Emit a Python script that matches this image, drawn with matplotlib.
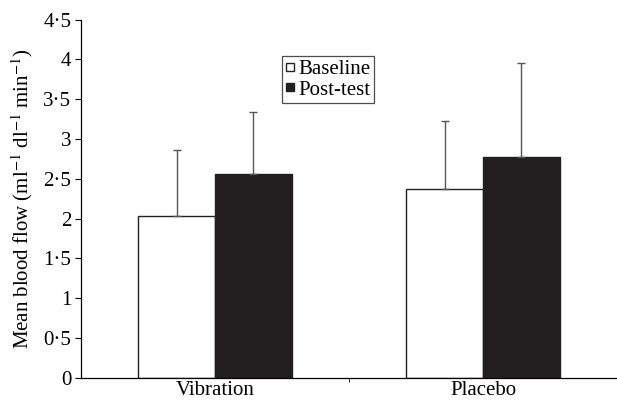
import matplotlib
matplotlib.use("Agg")
import matplotlib.pyplot as plt
import numpy as np
from matplotlib.ticker import FuncFormatter
from matplotlib.lines import Line2D

plt.rcParams['font.family'] = ['Liberation Serif', 'DejaVu Serif']
plt.rcParams['mathtext.fontset'] = 'stix'

categories = ["Vibration", "Placebo"]
series_names = ["Baseline", "Post-test"]
baseline = [2.03, 2.37]
posttest = [2.56, 2.78]
baseline_err = [0.83, 0.86]
posttest_err = [0.78, 1.17]
yticks = [0, 0.5, 1, 1.5, 2, 2.5, 3, 3.5, 4, 4.5]

fig = plt.figure(figsize=(6.17, 4.01), dpi=100)
ax = fig.add_axes([0.1313, 0.058, 0.8687, 0.893])

x = np.arange(len(categories))
w = 0.287
ekw = dict(ecolor='#555555', elinewidth=1.0, capsize=3, capthick=1.0)
ax.bar(x - w/2, baseline, w, color='white', edgecolor='#222222', linewidth=1.0,
       yerr=[np.zeros(2), baseline_err], error_kw=ekw, label=series_names[0])
ax.bar(x + w/2, posttest, w, color='#231f20', edgecolor='#231f20', linewidth=1.0,
       yerr=[np.zeros(2), posttest_err], error_kw=ekw, label=series_names[1])

ax.set_xlim(-0.5, len(categories) - 0.5)
ax.set_ylim(0, 4.5)
ax.set_yticks(yticks)
ax.yaxis.set_major_formatter(FuncFormatter(lambda v, p: ('%g' % v).replace('.', '\u00b7')))
ax.set_xticks(x)
ax.set_xticklabels(categories, fontsize=15)
ax.tick_params(axis='x', length=0, pad=2)
ax.set_xticks([0.5], minor=True)
ax.tick_params(axis='x', which='minor', length=3, direction='out')
ax.tick_params(axis='y', labelsize=15, length=4, direction='out', pad=3)
for s in ['top', 'right']:
    ax.spines[s].set_visible(False)
ax.spines['left'].set_linewidth(0.9)
ax.spines['bottom'].set_linewidth(0.9)
ax.set_ylabel("Mean blood flow (ml$^{-1}$ dl$^{-1}$ min$^{-1}$)", fontsize=15, labelpad=6)

handles = [Line2D([], [], marker='s', linestyle='none', markersize=5.5,
                  markerfacecolor='white', markeredgecolor='#222222'),
           Line2D([], [], marker='s', linestyle='none', markersize=5.5,
                  markerfacecolor='#231f20', markeredgecolor='#231f20')]
leg = ax.legend(handles, series_names, loc='upper left', bbox_to_anchor=(0.375, 0.898),
                frameon=True, fancybox=False, edgecolor='#222222', fontsize=15,
                handlelength=0.5, handletextpad=0.15, borderpad=0.15, labelspacing=0.05,
                borderaxespad=0)
leg.get_frame().set_linewidth(0.9)

fig.savefig("out.png", dpi=100)
